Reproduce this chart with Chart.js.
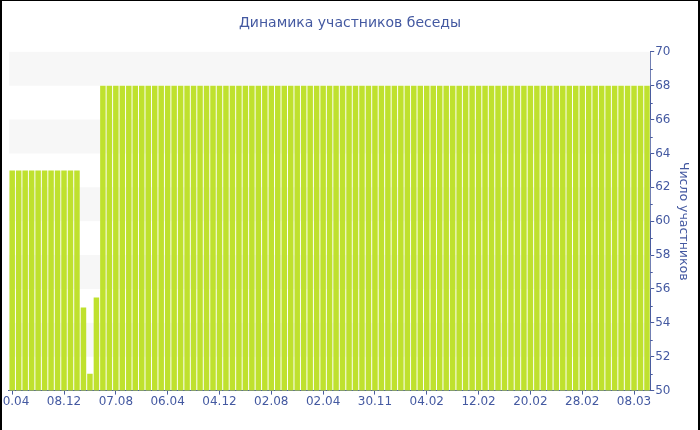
<!DOCTYPE html>
<html>
<head>
<meta charset="utf-8">
<script src="https://cdn.jsdelivr.net/npm/chart.js@4/dist/chart.umd.min.js"></script>
<style>
  html, body { margin: 0; padding: 0; background: #fff; }
  #wrap { position: relative; width: 700px; height: 430px; overflow: hidden; background: #fff; }
  #c { position: absolute; left: -5px; top: 0; }
  #frame { position: absolute; left: 0; top: 0; width: 700px; height: 430px; box-sizing: border-box;
           border-left: 2px solid #000; border-top: 1px solid #000; border-right: 2px solid #000; pointer-events: none; }
</style>
</head>
<body>
<div id="wrap">
  <canvas id="c" width="705" height="430"></canvas>
  <div id="frame"></div>
</div>
<script>
// ---- data ----
const chartTitle = 'Динамика участников беседы';
const axisTitle = 'Число участников';
const tickLabels = ['10.04', '08.12', '07.08', '06.04', '04.12', '02.08', '02.04', '30.11', '04.02', '12.02', '20.02', '28.02', '08.03'];
const labelEvery = 8;
const participants = [
  63, 63, 63, 63, 63, 63, 63, 63, 63, 63, 63,
  54.9, 51.0, 55.5,
  68, 68, 68, 68, 68, 68, 68, 68, 68, 68,
  68, 68, 68, 68, 68, 68, 68, 68, 68, 68,
  68, 68, 68, 68, 68, 68, 68, 68, 68, 68,
  68, 68, 68, 68, 68, 68, 68, 68, 68, 68,
  68, 68, 68, 68, 68, 68, 68, 68, 68, 68,
  68, 68, 68, 68, 68, 68, 68, 68, 68, 68,
  68, 68, 68, 68, 68, 68, 68, 68, 68, 68,
  68, 68, 68, 68, 68, 68, 68, 68, 68, 68,
  68, 68, 68, 68, 68
];
const yMin = 50, yMax = 70, yStep = 2;

// category labels: known dates on every 8th category
const categories = participants.map((_, i) => (i % labelEvery === 0 && tickLabels[i / labelEvery]) ? tickLabels[i / labelEvery] : '');

const axisColor = '#4a5c9f';
const textColor = '#4459a1';
const barColor = '#bfe12e';
const bandColor = '#f7f7f7';
const font = { family: 'DejaVu Sans', size: 12 };

const bandsPlugin = {
  id: 'bands',
  beforeDatasetsDraw(chart) {
    const { ctx, chartArea, scales } = chart;
    const y = scales.y;
    ctx.save();
    ctx.fillStyle = bandColor;
    for (let v = yMax; v > yMin; v -= 2 * yStep) {
      const top = y.getPixelForValue(v);
      const bot = y.getPixelForValue(v - yStep);
      ctx.fillRect(chartArea.left, top, chartArea.right - chartArea.left, bot - top);
    }
    ctx.restore();
  },
  afterDraw(chart) {
    const { ctx, chartArea, scales } = chart;
    const y = scales.y;
    ctx.save();
    ctx.strokeStyle = axisColor;
    ctx.lineWidth = 1;
    for (let v = yMin + 1; v < yMax; v += yStep) {
      const py = Math.round(y.getPixelForValue(v)) + 0.5;
      ctx.beginPath();
      ctx.moveTo(chartArea.right, py);
      ctx.lineTo(chartArea.right + 2.5, py);
      ctx.stroke();
    }
    ctx.restore();
  }
};

new Chart(document.getElementById('c'), {
  type: 'bar',
  data: {
    labels: categories,
    datasets: [{
      data: participants,
      backgroundColor: barColor,
      borderWidth: 0,
      categoryPercentage: 1.0,
      barPercentage: 0.85
    }]
  },
  options: {
    responsive: false,
    animation: false,
    devicePixelRatio: 1,
    layout: { padding: { left: 5, right: 0, top: 0, bottom: 21 } },
    plugins: {
      legend: { display: false },
      tooltip: { enabled: false },
      title: {
        display: true,
        text: chartTitle,
        color: textColor,
        font: { family: 'DejaVu Sans', size: 14, weight: 'normal' },
        padding: { top: 15, bottom: 20 }
      }
    },
    scales: {
      x: {
        offset: true,
        grid: {
          offset: false,
          drawOnChartArea: false,
          drawTicks: true,
          tickLength: 4,
          tickColor: (ctx) => (ctx.index % labelEvery === 0) ? axisColor : 'rgba(0,0,0,0)'
        },
        border: { display: true, color: axisColor },
        ticks: {
          autoSkip: false,
          maxRotation: 0,
          minRotation: 0,
          padding: 0,
          color: textColor,
          font: font
        }
      },
      y: {
        position: 'right',
        min: yMin,
        max: yMax,
        grid: { drawOnChartArea: false, drawTicks: true, tickLength: 4, color: axisColor },
        border: { display: true, color: axisColor },
        ticks: { stepSize: yStep, padding: 1, color: textColor, font: font },
        title: {
          display: true,
          text: axisTitle,
          color: textColor,
          font: { family: 'DejaVu Sans', size: 12.5 },
          padding: { top: 9.5, bottom: 4 }
        }
      }
    }
  },
  plugins: [bandsPlugin]
});
</script>
</body>
</html>
